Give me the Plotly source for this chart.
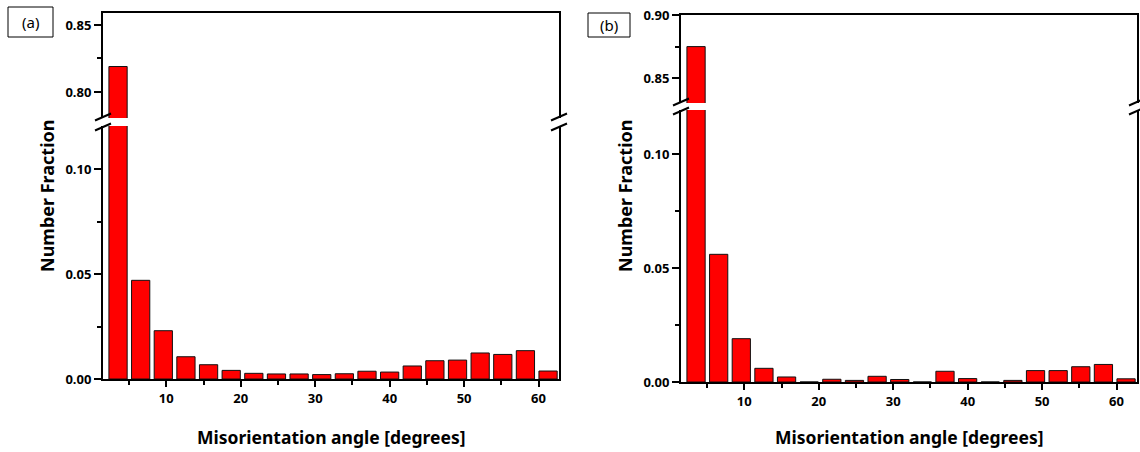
import plotly.graph_objects as go

# ---- data ----
bin_start = 2.0
bin_width = 3.04
n_bins = 20
angles = [round(bin_start + bin_width * (i + 0.5), 3) for i in range(n_bins)]

fraction_a = [0.819, 0.047, 0.023, 0.0106, 0.0068, 0.0041, 0.0027, 0.0024, 0.0024, 0.0021,
              0.0025, 0.0037, 0.0033, 0.0062, 0.0087, 0.0090, 0.0124, 0.0117, 0.0135, 0.0038]
fraction_b = [0.875, 0.056, 0.019, 0.0060, 0.0022, 0.0, 0.0012, 0.0007, 0.0025, 0.0011,
              0.0, 0.0047, 0.0015, 0.0, 0.0007, 0.0050, 0.0050, 0.0067, 0.0077, 0.0014]

x_title = "Misorientation angle [degrees]"
y_title = "Number Fraction"
panel_labels = ["(a)", "(b)"]

# ---- layout helpers ----
W, H = 1140, 452
def px(x):
    return x / W
def py(y):
    return 1 - y / H

FONT = "Noto Sans"
BAR_COLOR = "#ff0000"
LINE = "#111111"
TICKFONT = dict(family=FONT, size=13, color="black", weight="bold")

panels = [
    dict(data=fraction_a, x0=103, x1=559, up=(12.5, 118), lo=(126, 379),
         up_range=[0.7806, 0.8593], lo_range=[0, 0.1205], label_box=(8, 7, 53, 37), ytitle_x=47),
    dict(data=fraction_b, x0=681, x1=1137, up=(15, 103), lo=(110, 382),
         up_range=[0.8302, 0.9001], lo_range=[0, 0.1193], label_box=(588, 13, 630, 37), ytitle_x=625),
]

fig = go.Figure()
layout = dict(width=W, height=H, margin=dict(l=0, r=0, t=0, b=0, pad=0, autoexpand=False),
              paper_bgcolor="white", plot_bgcolor="white", showlegend=False,
              bargap=0, font=dict(family=FONT, color="black"))
shapes = []
annotations = []
xrange_ = [1.5, 62.75]

for k, p in enumerate(panels):
    lo_idx = 2 * k + 1
    up_idx = 2 * k + 2
    lo_x = "x" if lo_idx == 1 else f"x{lo_idx}"
    lo_y = "y" if lo_idx == 1 else f"y{lo_idx}"
    up_x = f"x{up_idx}"
    up_y = f"y{up_idx}"
    for xa, ya in ((lo_x, lo_y), (up_x, up_y)):
        fig.add_trace(go.Bar(x=angles, y=p["data"], width=2.45, xaxis=xa, yaxis=ya,
                             marker=dict(color=BAR_COLOR, line=dict(color=LINE, width=1)),
                             cliponaxis=True, hoverinfo="skip"))
    xdom = [px(p["x0"]), px(p["x1"])]
    lo_dom = [py(p["lo"][1]), py(p["lo"][0])]
    up_dom = [py(p["up"][1]), py(p["up"][0])]
    lo_xkey = "xaxis" if lo_idx == 1 else f"xaxis{lo_idx}"
    lo_ykey = "yaxis" if lo_idx == 1 else f"yaxis{lo_idx}"
    layout[lo_xkey] = dict(domain=xdom, anchor=lo_y, range=xrange_, showline=True, linecolor="black",
                           linewidth=2, showgrid=False, zeroline=False, ticks="outside", ticklen=6,
                           tickwidth=2, tickcolor="black", tick0=0, dtick=10, automargin=False,
                           minor=dict(ticks="outside", ticklen=4, tickwidth=2, dtick=5, tick0=0, tickcolor="black"),
                           tickfont=TICKFONT)
    layout[lo_ykey] = dict(domain=lo_dom, anchor=lo_x, range=p["lo_range"], showline=True, mirror=True,
                           linecolor="black", linewidth=2, showgrid=False, zeroline=False, automargin=False,
                           ticks="outside", ticklen=7, tickwidth=2, tickcolor="black", tick0=0, dtick=0.05,
                           tickformat=".2f",
                           minor=dict(ticks="outside", ticklen=4, tickwidth=2, dtick=0.025, tick0=0, tickcolor="black"),
                           tickfont=TICKFONT)
    layout[f"xaxis{up_idx}"] = dict(domain=xdom, anchor=up_y, range=xrange_, side="top", showline=True,
                                    linecolor="black", linewidth=2, showgrid=False, zeroline=False,
                                    showticklabels=False, ticks="", automargin=False)
    layout[f"yaxis{up_idx}"] = dict(domain=up_dom, anchor=up_x, range=p["up_range"], showline=True, mirror=True,
                                    linecolor="black", linewidth=2, showgrid=False, zeroline=False, automargin=False,
                                    ticks="outside", ticklen=7, tickwidth=2, tickcolor="black", tick0=0, dtick=0.05,
                                    tickformat=".2f",
                                    minor=dict(ticks="outside", ticklen=4, tickwidth=2, dtick=0.025, tick0=0, tickcolor="black"),
                                    tickfont=TICKFONT)
    # break marks
    gy0, gy1 = p["up"][1], p["lo"][0]
    for bx in (p["x0"], p["x1"]):
        for gy in (gy0 - 1, gy1 + 1):
            shapes.append(dict(type="line", xref="paper", yref="paper",
                               x0=px(bx - 8), y0=py(gy + 3.5), x1=px(bx + 8), y1=py(gy - 3.5),
                               line=dict(color="black", width=2)))
    # panel label box
    bx0, by0, bx1, by1 = p["label_box"]
    shapes.append(dict(type="rect", xref="paper", yref="paper", x0=px(bx0), y0=py(by1), x1=px(bx1), y1=py(by0),
                       line=dict(color="black", width=1), fillcolor="white"))
    annotations.append(dict(text=panel_labels[k], xref="paper", yref="paper", x=px((bx0 + bx1) / 2),
                            y=py((by0 + by1) / 2), showarrow=False, xanchor="center", yanchor="middle",
                            font=dict(family=FONT, size=15, color="black")))
    # axis titles
    annotations.append(dict(text=x_title, xref="paper", yref="paper", x=px((p["x0"] + p["x1"]) / 2),
                            y=py(437), showarrow=False, xanchor="center", yanchor="middle",
                            font=dict(family=FONT, size=17.5, color="black", weight="bold")))
    annotations.append(dict(text=y_title, xref="paper", yref="paper", x=px(p["ytitle_x"]),
                            y=py(196), showarrow=False, xanchor="center", yanchor="middle", textangle=-90,
                            font=dict(family=FONT, size=18, color="black", weight="bold")))

layout["shapes"] = shapes
layout["annotations"] = annotations
fig.update_layout(**layout)
fig.write_html("out.html", config={"displayModeBar": False, "staticPlot": True},
               post_script="document.body.style.margin='0';document.body.style.overflow='hidden';")
